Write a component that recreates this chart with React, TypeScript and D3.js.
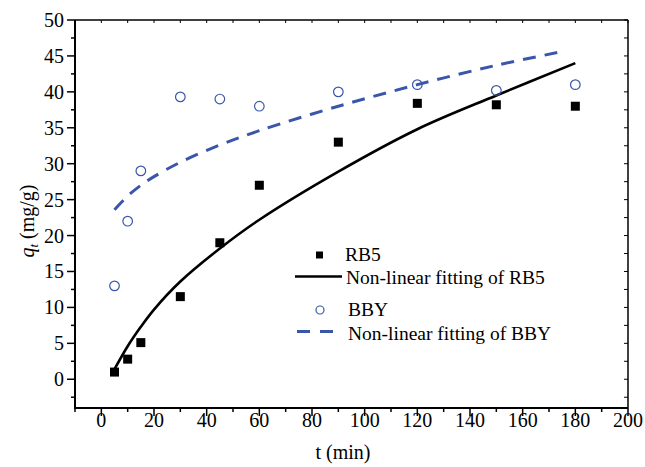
import * as d3 from "d3";
import React from "react";

// measured points
const times = [5, 10, 15, 30, 45, 60, 90, 120, 150, 180];
const rb5 = [1.0, 2.8, 5.1, 11.5, 19.0, 27.0, 33.0, 38.4, 38.2, 38.0];
const bby = [13.0, 22.0, 29.0, 39.3, 39.0, 38.0, 40.0, 41.0, 40.2, 41.0];

// fitted curves
const rb5FitT = [5, 10, 15, 20, 30, 45, 60, 90, 120, 150, 180];
const rb5FitQ = [1.4, 4.6, 7.3, 9.7, 13.6, 18.2, 22.2, 28.9, 34.8, 39.5, 44.0];
const bbyFitT = [5, 10, 15, 20, 30, 45, 60, 90, 120, 150, 175];
const bbyFitQ = [23.6, 25.5, 27.0, 28.2, 30.2, 32.6, 34.6, 38.0, 41.0, 43.7, 45.6];

const xTicks = [0, 20, 40, 60, 80, 100, 120, 140, 160, 180, 200];
const yTicks = [0, 5, 10, 15, 20, 25, 30, 35, 40, 45, 50];

const legendItems = ["RB5", "Non-linear fitting of RB5", "BBY", "Non-linear fitting of BBY"];

const BLUE = "#3a56aa";
const FONT = "'Liberation Serif', 'Times New Roman', serif";

export default function App() {
  const W = 645;
  const H = 467;
  const x = d3.scaleLinear().domain([-10, 200]).range([75, 628]);
  const y = d3.scaleLinear().domain([-4, 50]).range([408, 20]);

  const line = d3
    .line<[number, number]>()
    .x((d) => x(d[0]))
    .y((d) => y(d[1]))
    .curve(d3.curveCatmullRom.alpha(0.5));

  const rb5Path = line(rb5FitT.map((t, i) => [t, rb5FitQ[i]]));
  const bbyPath = line(bbyFitT.map((t, i) => [t, bbyFitQ[i]]));

  const xMinor = d3.range(-10, 201, 10).filter((v) => v % 20 !== 0);
  const xAll = d3.range(-10, 201, 10);
  const yMinor = d3.range(-2.5, 50, 5);
  const yAll = d3.range(-2.5, 50.1, 2.5);

  const [x0, x1] = x.range();
  const [yb, yt] = y.range();

  return (
    <svg
      width={W}
      height={H}
      style={{ position: "absolute", left: 0, top: 0, background: "#fff" }}
      fontFamily={FONT}
    >
      {/* fitted lines */}
      <path d={rb5Path!} fill="none" stroke="#000" strokeWidth={2.6} />
      <path d={bbyPath!} fill="none" stroke={BLUE} strokeWidth={3} strokeDasharray="13 9" />

      {/* points */}
      {times.map((t, i) => (
        <rect key={"s" + i} x={x(t) - 4.5} y={y(rb5[i]) - 4.5} width={9} height={9} fill="#000" />
      ))}
      {times.map((t, i) => (
        <circle key={"c" + i} cx={x(t)} cy={y(bby[i])} r={4.8} fill="none" stroke={BLUE} strokeWidth={1.2} />
      ))}

      {/* frame */}
      <line x1={x0} x2={x1} y1={yt} y2={yt} stroke="#000" strokeWidth={1.5} />
      <line x1={x1} x2={x1} y1={yt} y2={yb} stroke="#000" strokeWidth={1.5} />
      <line x1={x0} x2={x1} y1={yb} y2={yb} stroke="#000" strokeWidth={2} />
      <line x1={x0} x2={x0} y1={yt} y2={yb + 1} stroke="#000" strokeWidth={2} />

      {/* top and right inner ticks */}
      {xAll.map((v) => (
        <line key={"tt" + v} x1={x(v)} x2={x(v)} y1={yt} y2={yt + 3} stroke="#000" strokeWidth={1} />
      ))}
      {yAll.map((v) => (
        <line key={"rt" + v} x1={x1} x2={x1 - 4} y1={y(v)} y2={y(v)} stroke="#000" strokeWidth={1} />
      ))}

      {/* x axis */}
      {xTicks.map((v) => (
        <g key={"x" + v}>
          <line x1={x(v)} x2={x(v)} y1={yb} y2={yb + 8} stroke="#000" strokeWidth={1.5} />
          <text x={x(v)} y={427} textAnchor="middle" fontSize={20}>
            {v}
          </text>
        </g>
      ))}
      {xMinor.map((v) => (
        <line key={"xm" + v} x1={x(v)} x2={x(v)} y1={yb} y2={yb + 4} stroke="#000" strokeWidth={1.5} />
      ))}
      <text x={343} y={459} textAnchor="middle" fontSize={20}>
        t (min)
      </text>

      {/* y axis */}
      {yTicks.map((v) => (
        <g key={"y" + v}>
          <line x1={x0 - 8} x2={x0} y1={y(v)} y2={y(v)} stroke="#000" strokeWidth={1.5} />
          <text x={64} y={y(v) + 7} textAnchor="end" fontSize={20}>
            {v}
          </text>
        </g>
      ))}
      {yMinor.map((v) => (
        <line key={"ym" + v} x1={x0 - 4} x2={x0} y1={y(v)} y2={y(v)} stroke="#000" strokeWidth={1.5} />
      ))}
      <text transform="translate(34,221) rotate(-90)" textAnchor="middle" fontSize={20}>
        <tspan fontStyle="italic">q</tspan>
        <tspan fontStyle="italic" fontSize={13} dy={4}>t</tspan>
        <tspan dy={-4}> (mg/g)</tspan>
      </text>

      {/* legend */}
      <rect x={316} y={251.5} width={7} height={7} fill="#000" />
      <text x={345} y={261} fontSize={19.5}>{legendItems[0]}</text>
      <line x1={295} x2={342} y1={276.5} y2={276.5} stroke="#000" strokeWidth={2.6} />
      <text x={346} y={283.5} fontSize={19.5}>{legendItems[1]}</text>
      <circle cx={320} cy={310} r={4} fill="none" stroke={BLUE} strokeWidth={1.2} />
      <text x={348} y={315.5} fontSize={19.5}>{legendItems[2]}</text>
      <line x1={297} x2={334} y1={331.5} y2={331.5} stroke={BLUE} strokeWidth={3} strokeDasharray="13 10" />
      <text x={348} y={339.5} fontSize={19.5}>{legendItems[3]}</text>
    </svg>
  );
}
